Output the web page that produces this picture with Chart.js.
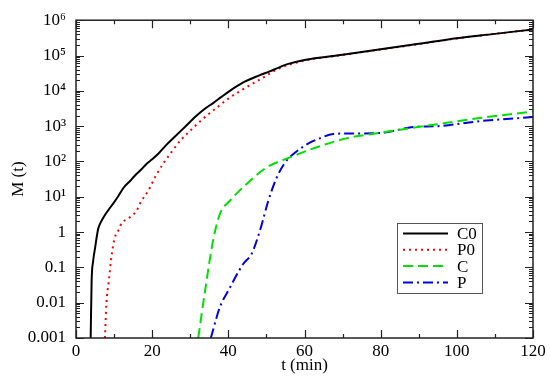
<!DOCTYPE html>
<html>
<head>
<meta charset="utf-8">
<script src="https://cdn.jsdelivr.net/npm/chart.js@4.4.0/dist/chart.umd.min.js"></script>
<style>
  html, body { margin: 0; padding: 0; background: #fff; }
  #wrap { width: 550px; height: 381px; }
</style>
</head>
<body>
<div id="wrap"><canvas id="chart"></canvas></div>
<script>
// --- data ---
const c0T = [3.85, 4.1, 4.5, 5, 5.8, 6.3, 7.2, 8.5, 9.8, 11, 12.5, 14.2, 15.5, 17.2, 18.5, 20, 21.6, 23.8, 26, 28.6, 31.7, 34, 36, 38, 40.4, 43.8, 48, 51, 53.5, 56, 60, 70, 80, 90, 100, 110, 120];
const c0M = [0.001, 0.04, 0.15, 0.35, 1.2, 1.7, 2.6, 4.2, 6.5, 10, 18, 28, 40, 60, 85, 115, 165, 300, 510, 950, 2000, 3200, 4500, 6500, 1e4, 1.7e4, 2.7e4, 3.6e4, 4.7e4, 5.9e4, 7.5e4, 1.05e5, 1.5e5, 2.15e5, 3.1e5, 4.1e5, 5.5e5];

const p0T = [7.6, 8.0, 8.6, 9.3, 10.2, 11.1, 12, 13.7, 15.9, 17, 19, 21, 23, 25, 27.5, 30.8, 33, 36.9, 40, 43, 48, 53.5, 56, 60, 70, 80, 90, 100, 110, 120];
const p0M = [0.001, 0.01, 0.04, 0.2, 0.7, 1.1, 1.8, 2.4, 4, 7, 15, 40, 90, 180, 400, 900, 1500, 3300, 6000, 9700, 2e4, 4.4e4, 5.5e4, 7.2e4, 1.04e5, 1.48e5, 2.1e5, 3.05e5, 4.1e5, 5.4e5];

const cT = [32.1, 33.9, 36, 37.8, 40.4, 44.8, 50, 56, 64, 71, 79.8, 88.5, 97.3, 106, 120];
const cM = [0.001, 0.022, 0.58, 3.3, 7.7, 23, 67, 128, 270, 450, 650, 900, 1240, 1700, 2600];

const pT = [35.4, 37.8, 40, 43.9, 46.1, 48.3, 50.5, 52.7, 54.9, 57, 61.4, 64, 67.5, 72, 80, 85, 88.5, 95, 106, 120];
const pM = [0.001, 0.0076, 0.022, 0.125, 0.24, 1.1, 7.7, 35, 93, 160, 340, 450, 600, 620, 640, 800, 950, 1000, 1380, 1800];

const yTickValues = [0.001, 0.01, 0.1, 1, 10, 100, 1000, 1e4, 1e5, 1e6];
const yTickLabels = ['0.001', '0.01', '0.1', '1', '10\u00B9', '10\u00B2', '10\u00B3', '10\u2074', '10\u2075', '10\u2076'];

const names = ['C0', 'P0', 'C', 'P'];
const colors = ['#000000', '#ff0000', '#00e000', '#0000e0'];
const dashes = [[], [2, 4], [10, 5], [10, 4, 2, 4]];

const pairs = (xs, ys) => xs.map((x, i) => ({ x: x, y: ys[i] }));
const series = [pairs(c0T, c0M), pairs(p0T, p0M), pairs(cT, cM), pairs(pT, pM)];

Chart.defaults.font.family = "'Liberation Serif', 'DejaVu Serif', serif";
Chart.defaults.font.size = 17;
Chart.defaults.color = '#000';

// frame + inward ticks like the original plot
const frameTicks = {
  id: 'frameTicks',
  afterDatasetsDraw(chart) {
    const { ctx, chartArea: a, scales: { x, y } } = chart;
    ctx.save();
    ctx.strokeStyle = '#222';
    ctx.lineWidth = 1.2;
    ctx.beginPath();
    for (let v = 0; v <= 120; v += 10) {
      const px = Math.round(x.getPixelForValue(v)) + 0.5;
      const len = v % 20 === 0 ? 8 : 4;
      ctx.moveTo(px, a.bottom); ctx.lineTo(px, a.bottom - len);
      ctx.moveTo(px, a.top); ctx.lineTo(px, a.top + len);
    }
    for (let e = -3; e <= 6; e++) {
      for (let m = 1; m <= 9; m++) {
        const v = m * Math.pow(10, e);
        if (v > 1e6 * 1.0001) continue;
        const py = Math.round(y.getPixelForValue(v)) + 0.5;
        const len = m === 1 ? 8 : 4;
        ctx.moveTo(a.left, py); ctx.lineTo(a.left + len, py);
        ctx.moveTo(a.right, py); ctx.lineTo(a.right - len, py);
      }
    }
    ctx.stroke();
    ctx.lineWidth = 1.5;
    ctx.strokeRect(a.left, a.top, a.right - a.left, a.bottom - a.top);
    ctx.restore();
  }
};

// legend box inside the plot, lower right
const boxLegend = {
  id: 'boxLegend',
  afterDraw(chart) {
    const { ctx, chartArea: a } = chart;
    const bx = a.right - 136, by = a.bottom - 115, bw = 85, bh = 70;
    ctx.save();
    ctx.fillStyle = '#fff';
    ctx.fillRect(bx, by, bw, bh);
    ctx.strokeStyle = '#555';
    ctx.lineWidth = 1;
    ctx.strokeRect(bx + 0.5, by + 0.5, bw, bh);
    ctx.font = "17px 'Liberation Serif', serif";
    ctx.textBaseline = 'middle';
    ctx.fillStyle = '#000';
    names.forEach((n, i) => {
      const ry = by + 10.5 + i * 16.3;
      ctx.beginPath();
      ctx.setLineDash(dashes[i]);
      ctx.strokeStyle = colors[i];
      ctx.lineWidth = 2;
      ctx.moveTo(bx + 6, ry); ctx.lineTo(bx + 51, ry);
      ctx.stroke();
      ctx.setLineDash([]);
      ctx.fillText(n, bx + 60, ry + 1);
    });
    ctx.restore();
  }
};

new Chart(document.getElementById('chart').getContext('2d'), {
  type: 'line',
  data: {
    datasets: series.map((d, i) => ({
      label: names[i], data: d,
      borderColor: colors[i], borderWidth: 2, borderDash: dashes[i],
      pointRadius: 0, fill: false, cubicInterpolationMode: 'monotone'
    }))
  },
  options: {
    responsive: true, maintainAspectRatio: false, animation: false,
    layout: { padding: { top: 19, right: 17, left: 0, bottom: 0 } },
    plugins: { legend: { display: false }, tooltip: { enabled: false } },
    scales: {
      x: {
        type: 'linear', min: 0, max: 120,
        grid: { display: false, drawTicks: false }, border: { display: false },
        ticks: { stepSize: 20, padding: 3, maxRotation: 0 },
        title: { display: true, text: 't (min)', padding: { top: 0, bottom: 5 } },
        afterFit: (s) => { s.height = 43; }
      },
      y: {
        type: 'logarithmic', min: 0.001, max: 1e6,
        grid: { display: false, drawTicks: false }, border: { display: false },
        afterBuildTicks: (s) => { s.ticks = yTickValues.map(v => ({ value: v })); },
        ticks: {
          padding: 10, autoSkip: false,
          callback: (v) => { const k = yTickValues.findIndex(t => Math.abs(t - v) / t < 1e-6); return k >= 0 ? yTickLabels[k] : ''; }
        },
        title: { display: true, text: 'M (t)', padding: { top: 8, bottom: 4 } },
        afterFit: (s) => { s.width = 76; }
      }
    }
  },
  plugins: [frameTicks, boxLegend]
});
</script>
</body>
</html>
